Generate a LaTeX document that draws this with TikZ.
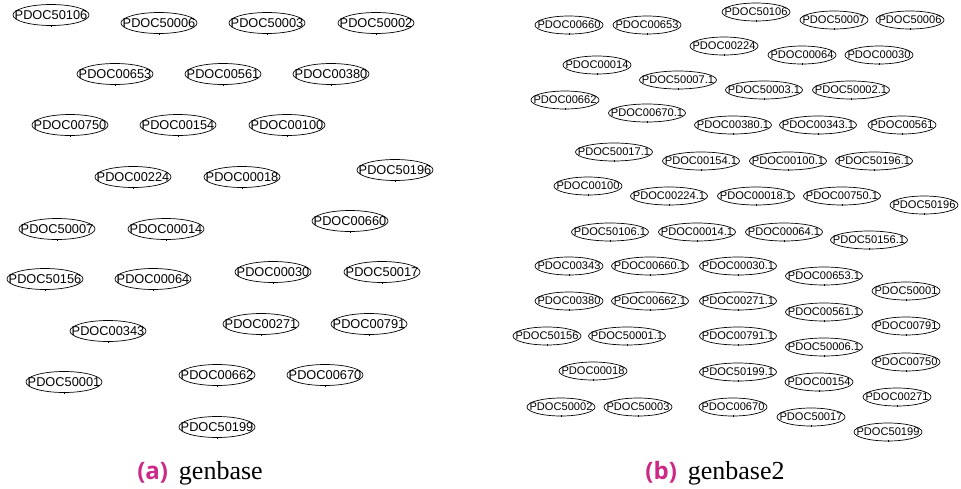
\documentclass[tikz,border=0pt]{standalone}
\usepackage{fontspec}
\setmainfont{Liberation Serif}
\setsansfont{Liberation Sans}
\newfontfamily\capfont{Open Sans}
\usetikzlibrary{shapes.geometric}
\definecolor{capmag}{RGB}{204,41,135}
\newcommand{\dlab}[1]{\makebox[0pt][c]{#1}}
\tikzset{
  doctick/.style={append after command={([yshift=1pt]\tikzlastnode.south) edge[draw, line width=0.35pt] ([yshift=-1pt]\tikzlastnode.south)}},
  docA/.style={ellipse, draw, line width=0.7pt, inner sep=0pt, minimum width=76pt, minimum height=21pt,
    font=\sffamily\fontsize{12.8}{13}\selectfont, doctick},
  docB/.style={ellipse, draw, line width=0.7pt, inner sep=0pt, minimum width=68pt, minimum height=18pt,
    font=\sffamily\fontsize{11.1}{12}\selectfont, doctick},
  docBw/.style={docB, minimum width=77pt},
  capstyle/.style={anchor=base, inner sep=0pt, font=\fontsize{26}{28}\selectfont},
}
\begin{document}
\begin{tikzpicture}[x=1pt, y=-1pt]
\useasboundingbox (0,0) rectangle (961,488);
% (a) genbase
\foreach \id/\px/\py in {50106/51/15, 50006/159/23, 50003/267/23, 50002/376/23,
  00653/115/74, 00561/223/74, 00380/331/74,
  00750/70/125, 00154/178/125, 00100/287/125,
  00224/133/177, 00018/242/177, 50196/395/170,
  50007/57/229, 00014/166/229, 00660/350/221,
  50156/45/279, 00064/153/279, 00030/273/272, 50017/382/272,
  00343/108/331, 00271/261/324, 00791/369/324,
  50001/64/382, 00662/217/375, 00670/325/375,
  50199/217/427}
  \node[docA] (a\id) at (\px,\py) {\dlab{PDOC\id}};
% (b) genbase2, plain identifiers
\foreach \id/\px/\py in {50106/756/12, 50007/834/20, 50006/910/20,
  00660/569/25, 00653/647/25, 00224/724/46, 00064/802/55, 00030/879/55,
  00014/597/65, 00662/565/100, 00561/902/125,
  00100/588/186, 50196/924/205,
  00343/569/266, 50001/906/291, 00380/569/301, 00791/906/326,
  50156/547/336, 00750/906/362, 00018/593/371, 00154/819/382,
  00271/897/397, 50002/561/407, 50003/638/407, 00670/733/407,
  50017/811/417, 50199/888/432}
  \node[docB] (b\id) at (\px,\py) {\dlab{PDOC\id}};
% (b) genbase2, ".1" identifiers
\foreach \id/\px/\py in {50007/678/80, 50003/764/90, 50002/851/90,
  00670/647/113, 00380/733/125, 00343/818/125,
  50017/614/152, 00154/701/161, 00100/788/161, 50196/874/161,
  00224/669/196, 00018/756/196, 00750/842/196,
  50106/610/232, 00014/697/232, 00064/784/232, 50156/869/240,
  00660/650/266, 00030/738/266, 00653/824/276,
  00662/650/301, 00271/738/301, 00561/824/312,
  50001/627/336, 00791/738/336, 50006/824/347,
  50199/738/372}
  \node[docBw] (b\id x1) at (\px,\py) {\dlab{PDOC\id.1}};
% captions
\node[capstyle] (capA) at (200,479) {{\capfont\fontsize{24}{28}\selectfont\bfseries\color{capmag}(a)}\hspace{0.42em}genbase};
\node[capstyle] (capB) at (715,479) {{\capfont\fontsize{24}{28}\selectfont\bfseries\color{capmag}(b)}\hspace{0.42em}genbase2};
\end{tikzpicture}
\end{document}
